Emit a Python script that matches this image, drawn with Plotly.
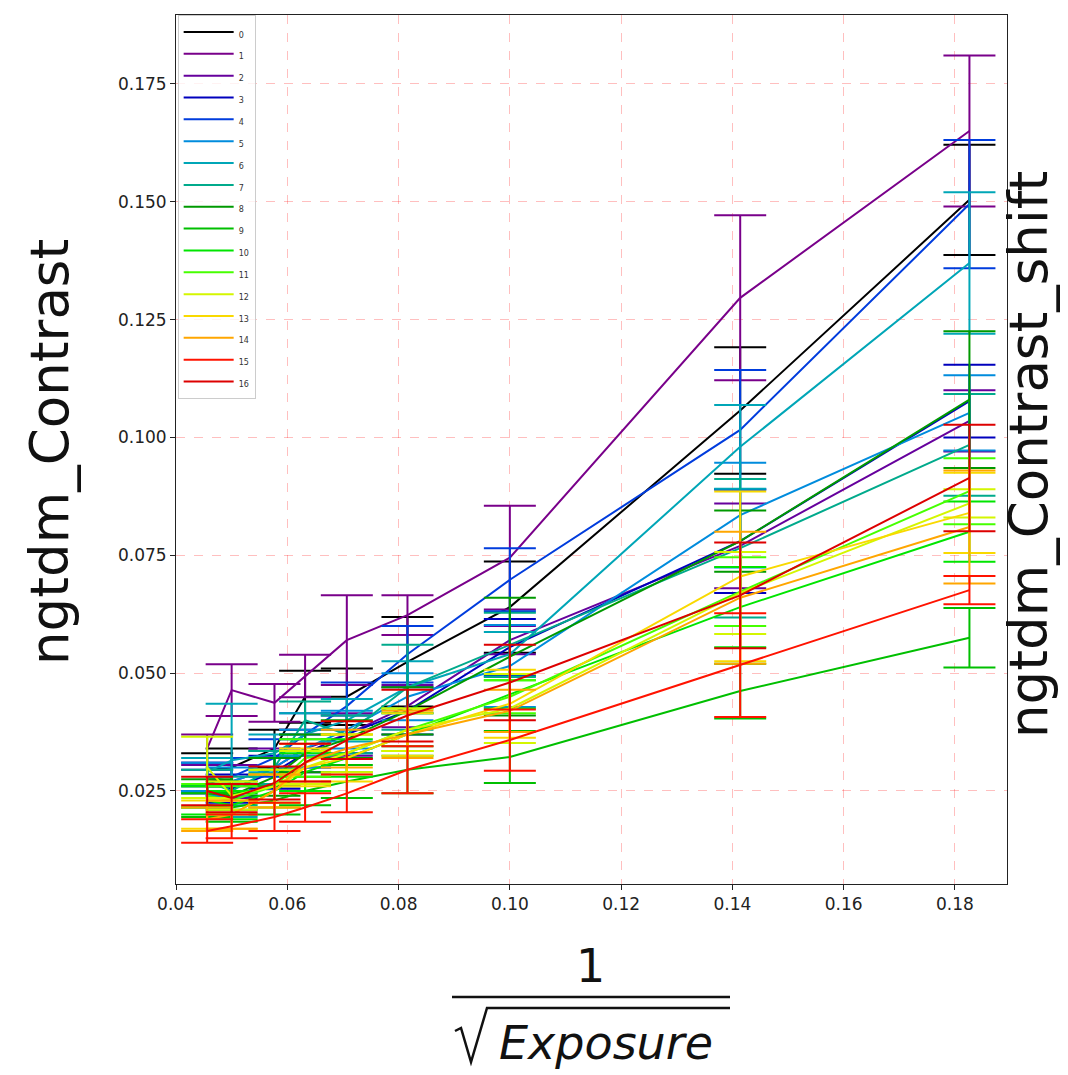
import plotly.graph_objects as go

# 1/sqrt(Exposure)
x_vals = [0.0456, 0.0500, 0.0577, 0.0632, 0.0707, 0.0816, 0.1000, 0.1414, 0.1826]

series_names = [str(i) for i in range(17)]

colors = [
    "#000000", "#79008a", "#66009d", "#0000bd", "#003cdd", "#008cdd",
    "#00a6b7", "#00aa8c", "#009900", "#00bf00", "#00e500", "#46ff00",
    "#d4f600", "#f9d900", "#ffa600", "#ff1300", "#dd0000",
]

y0 = [0.0295, 0.0300, 0.0340, 0.0450, 0.0450, 0.0524, 0.0640, 0.1057, 0.1504]
e0 = [0.0035, 0.0040, 0.0040, 0.0055, 0.0060, 0.0095, 0.0097, 0.0134, 0.0117]
y1 = [0.0340, 0.0464, 0.0437, 0.0494, 0.0570, 0.0623, 0.0745, 0.1296, 0.1650]
e1 = [0.0030, 0.0055, 0.0040, 0.0045, 0.0095, 0.0042, 0.0110, 0.0175, 0.0160]
y2 = [0.0275, 0.0270, 0.0300, 0.0340, 0.0370, 0.0430, 0.0570, 0.0770, 0.1035]
e2 = [0.0030, 0.0035, 0.0040, 0.0040, 0.0045, 0.0045, 0.0030, 0.0090, 0.0065]
y3 = [0.0270, 0.0255, 0.0290, 0.0330, 0.0370, 0.0420, 0.0555, 0.0780, 0.1077]
e3 = [0.0025, 0.0030, 0.0035, 0.0040, 0.0040, 0.0050, 0.0060, 0.0110, 0.0077]
y4 = [0.0280, 0.0280, 0.0320, 0.0370, 0.0430, 0.0540, 0.0698, 0.1016, 0.1495]
e4 = [0.0030, 0.0040, 0.0040, 0.0045, 0.0050, 0.0060, 0.0067, 0.0127, 0.0136]
y5 = [0.0280, 0.0270, 0.0300, 0.0340, 0.0380, 0.0450, 0.0515, 0.0835, 0.1052]
e5 = [0.0030, 0.0030, 0.0035, 0.0040, 0.0040, 0.0050, 0.0087, 0.0111, 0.0080]
y6 = [0.0290, 0.0315, 0.0330, 0.0370, 0.0400, 0.0470, 0.0540, 0.0980, 0.1370]
e6 = [0.0030, 0.0120, 0.0040, 0.0045, 0.0045, 0.0055, 0.0047, 0.0089, 0.0150]
y7 = [0.0270, 0.0250, 0.0300, 0.0400, 0.0370, 0.0470, 0.0560, 0.0765, 0.0984]
e7 = [0.0025, 0.0030, 0.0035, 0.0040, 0.0040, 0.0090, 0.0068, 0.0147, 0.0108]
y8 = [0.0245, 0.0240, 0.0280, 0.0330, 0.0360, 0.0420, 0.0535, 0.0780, 0.1080]
e8 = [0.0030, 0.0030, 0.0040, 0.0040, 0.0040, 0.0050, 0.0125, 0.0065, 0.0145]
y9 = [0.0220, 0.0215, 0.0230, 0.0250, 0.0270, 0.0295, 0.0322, 0.0462, 0.0575]
e9 = [0.0025, 0.0030, 0.0030, 0.0030, 0.0035, 0.0050, 0.0055, 0.0058, 0.0063]
y10 = [0.0230, 0.0220, 0.0250, 0.0290, 0.0320, 0.0370, 0.0455, 0.0640, 0.0800]
e10 = [0.0030, 0.0030, 0.0035, 0.0040, 0.0040, 0.0045, 0.0030, 0.0085, 0.0064]
y11 = [0.0240, 0.0230, 0.0260, 0.0320, 0.0330, 0.0380, 0.0450, 0.0673, 0.0886]
e11 = [0.0025, 0.0030, 0.0035, 0.0040, 0.0040, 0.0045, 0.0035, 0.0073, 0.0070]
y12 = [0.0300, 0.0240, 0.0260, 0.0300, 0.0330, 0.0380, 0.0425, 0.0670, 0.0860]
e12 = [0.0065, 0.0030, 0.0035, 0.0035, 0.0040, 0.0045, 0.0073, 0.0087, 0.0030]
y13 = [0.0200, 0.0200, 0.0250, 0.0300, 0.0320, 0.0370, 0.0435, 0.0705, 0.0840]
e13 = [0.0030, 0.0030, 0.0035, 0.0040, 0.0050, 0.0045, 0.0072, 0.0180, 0.0085]
y14 = [0.0190, 0.0200, 0.0250, 0.0310, 0.0340, 0.0370, 0.0420, 0.0660, 0.0810]
e14 = [0.0025, 0.0030, 0.0035, 0.0040, 0.0040, 0.0050, 0.0045, 0.0140, 0.0120]
y15 = [0.0165, 0.0175, 0.0195, 0.0215, 0.0245, 0.0295, 0.0358, 0.0517, 0.0676]
e15 = [0.0025, 0.0025, 0.0030, 0.0030, 0.0040, 0.0050, 0.0065, 0.0110, 0.0030]
y16 = [0.0250, 0.0235, 0.0267, 0.0310, 0.0358, 0.0410, 0.0480, 0.0665, 0.0914]
e16 = [0.0030, 0.0030, 0.0035, 0.0040, 0.0040, 0.0055, 0.0080, 0.0112, 0.0113]

y_series = [y0, y1, y2, y3, y4, y5, y6, y7, y8, y9, y10, y11, y12, y13, y14, y15, y16]
e_series = [e0, e1, e2, e3, e4, e5, e6, e7, e8, e9, e10, e11, e12, e13, e14, e15, e16]

x_ticks = [0.04, 0.06, 0.08, 0.10, 0.12, 0.14, 0.16, 0.18]
y_ticks = [0.025, 0.050, 0.075, 0.100, 0.125, 0.150, 0.175]

FONT = "DejaVu Sans"

fig = go.Figure()
for name, ys, es, c in zip(series_names, y_series, e_series, colors):
    fig.add_trace(go.Scatter(
        x=x_vals, y=ys, mode="lines", name="<span style='font-size:8px'>%s</span>" % name,
        line=dict(color=c, width=2),
        error_y=dict(type="data", array=es, visible=True, color=c, thickness=2, width=26),
    ))

# page is offset by the 8px default body margin
OFF = 8
W, H = 1068 - OFF, 1075 - OFF
# plot area in page pixels
L, R, T, B = 176, 1007, 15, 884
def px(xp):
    return (xp - L) / (R - L)
def py(yp):
    return (B - yp) / (B - T)

fig.update_layout(
    width=W, height=H,
    margin=dict(l=L - OFF, r=W - (R - OFF), t=T - OFF, b=H - (B - OFF), autoexpand=False),
    paper_bgcolor="white", plot_bgcolor="white",
    font=dict(family=FONT, color="#222222"),
    showlegend=True,
    legend=dict(
        x=0.002, y=1.0, xanchor="left", yanchor="top",
        bgcolor="rgba(255,255,255,0.8)", bordercolor="#cccccc", borderwidth=1,
        font=dict(size=14.5, family=FONT, color="#333333"),
        tracegroupgap=0, itemwidth=50,
    ),
    xaxis=dict(
        range=[0.04, 0.18935], tickvals=x_ticks, ticktext=["%.2f" % v for v in x_ticks],
        showgrid=True, gridcolor="rgba(255,0,0,0.25)", griddash="dash", gridwidth=1,
        zeroline=False, showline=True, linecolor="#222222", linewidth=1, mirror=True,
        ticks="outside", ticklen=5, tickcolor="#222222", tickfont=dict(size=17, family=FONT),
    ),
    yaxis=dict(
        range=[0.00527, 0.1896], tickvals=y_ticks, ticktext=["%.3f" % v for v in y_ticks],
        showgrid=True, gridcolor="rgba(255,0,0,0.25)", griddash="dash", gridwidth=1,
        zeroline=False, showline=True, linecolor="#222222", linewidth=1, mirror=True,
        ticks="outside", ticklen=5, tickcolor="#222222", tickfont=dict(size=17, family=FONT),
    ),
)

TXT = "#111111"
# axis labels
fig.add_annotation(x=px(50), y=py(452), xref="paper", yref="paper", text="ngtdm_Contrast",
                   xanchor="center", yanchor="middle",
                   textangle=-90, showarrow=False, font=dict(size=53, family=FONT, color=TXT))
fig.add_annotation(x=px(1029), y=py(455), xref="paper", yref="paper", text="ngtdm_Contrast_shift",
                   xanchor="center", yanchor="middle",
                   textangle=-90, showarrow=False, font=dict(size=53, family=FONT, color=TXT))
# x label: 1 / sqrt(Exposure)
fig.add_annotation(x=px(590), y=py(966), xref="paper", yref="paper", text="1",
                   xanchor="center", yanchor="middle",
                   showarrow=False, font=dict(size=46, family=FONT, color=TXT))
fig.add_annotation(x=px(606), y=py(1043), xref="paper", yref="paper", text="<i>Exposure</i>",
                   xanchor="center", yanchor="middle",
                   showarrow=False, font=dict(size=46, family=FONT, color=TXT))
fig.add_shape(type="line", xref="paper", yref="paper", x0=px(452), x1=px(730), y0=py(997), y1=py(997),
              line=dict(color=TXT, width=2.5))
fig.add_shape(type="path", xref="paper", yref="paper",
              path="M %f %f L %f %f L %f %f L %f %f L %f %f" % (
                  px(455), py(1031), px(461), py(1028), px(471), py(1062), px(487), py(1008), px(730), py(1008)),
              line=dict(color=TXT, width=2.5))

fig.write_html("out.html")
